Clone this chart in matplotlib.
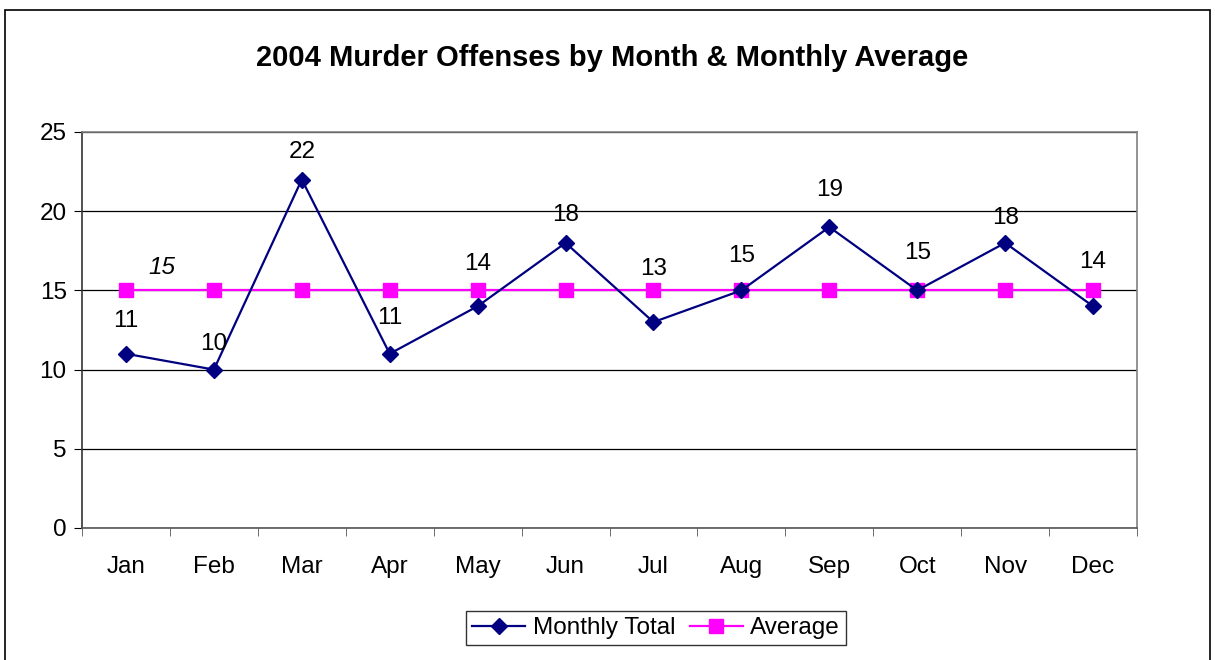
import numpy as np
import matplotlib as mpl
import matplotlib.pyplot as plt
from matplotlib.patches import Rectangle

mpl.rc('font', family=['Liberation Sans', 'DejaVu Sans'])

months = ['Jan', 'Feb', 'Mar', 'Apr', 'May', 'Jun',
          'Jul', 'Aug', 'Sep', 'Oct', 'Nov', 'Dec']
monthly = [11, 10, 22, 11, 14, 18, 13, 15, 19, 15, 18, 14]
average = [15] * 12

# label height above each point, in pixels (as placed in the original)
label_dy = [33, 26, 28, 36, 42, 28, 53, 34, 37, 37, 25, 44]

fig = plt.figure(figsize=(12.15, 6.6), dpi=100)
fig.patches.append(Rectangle((5 / 1215, -0.01), 1205 / 1215, 1 - 10 / 660 + 0.01,
                             transform=fig.transFigure, fill=False,
                             ec='black', lw=1.2))

ax = fig.add_axes([82 / 1215, 1 - 528 / 660, (1137 - 82) / 1215, (528 - 132) / 660])

x = np.arange(len(months))
ax.plot(x, monthly, c='#000080', lw=1.6, marker='D', ms=8, label='Monthly Total', zorder=3)
ax.plot(x, average, c='#FF00FF', lw=1.6, marker='s', ms=9.5, label='Average', zorder=2)

for xi, v, dy in zip(x, monthly, label_dy):
    ax.annotate(str(v), (xi, v), xytext=(0, dy), textcoords='offset pixels',
                ha='center', va='center', fontsize=17.5)
ax.annotate(str(average[0]), (x[0], average[0]), xytext=(36, 23), textcoords='offset pixels',
            ha='center', va='center', fontsize=17.5, style='italic')

ax.set_xlim(-0.5, 11.5)
ax.set_ylim(0, 25)
ax.set_yticks(range(0, 26, 5))
ax.set_xticks(x)
ax.set_xticklabels(months)
ax.set_xticks(np.arange(-0.5, 12, 1), minor=True)
ax.tick_params(axis='x', which='major', length=0, pad=20, labelsize=17.5)
ax.tick_params(axis='x', which='minor', length=6, color='#555555')
ax.tick_params(axis='y', length=6, pad=5, labelsize=17.5)
ax.grid(axis='y', color='black', lw=0.9)
ax.set_axisbelow(True)

ax.spines['top'].set_color('#808080')
ax.spines['right'].set_color('#808080')
ax.spines['left'].set_color('#333333')
ax.spines['bottom'].set_color('#555555')
for s in ax.spines.values():
    s.set_linewidth(1.2)

fig.text(612 / 1215, 1 - 58 / 660, '2004 Murder Offenses by Month & Monthly Average',
         ha='center', va='center', fontsize=21, fontweight='bold')

leg = ax.legend(loc='center', bbox_to_anchor=(656 / 1215, 1 - 628 / 660),
                bbox_transform=fig.transFigure, ncol=2, fontsize=17.5,
                frameon=True, fancybox=False, edgecolor='black',
                handlelength=2.2, handletextpad=0.3, columnspacing=0.6,
                borderpad=0.25)
leg.get_frame().set_linewidth(1.0)

plt.savefig('out.png', dpi=100)
